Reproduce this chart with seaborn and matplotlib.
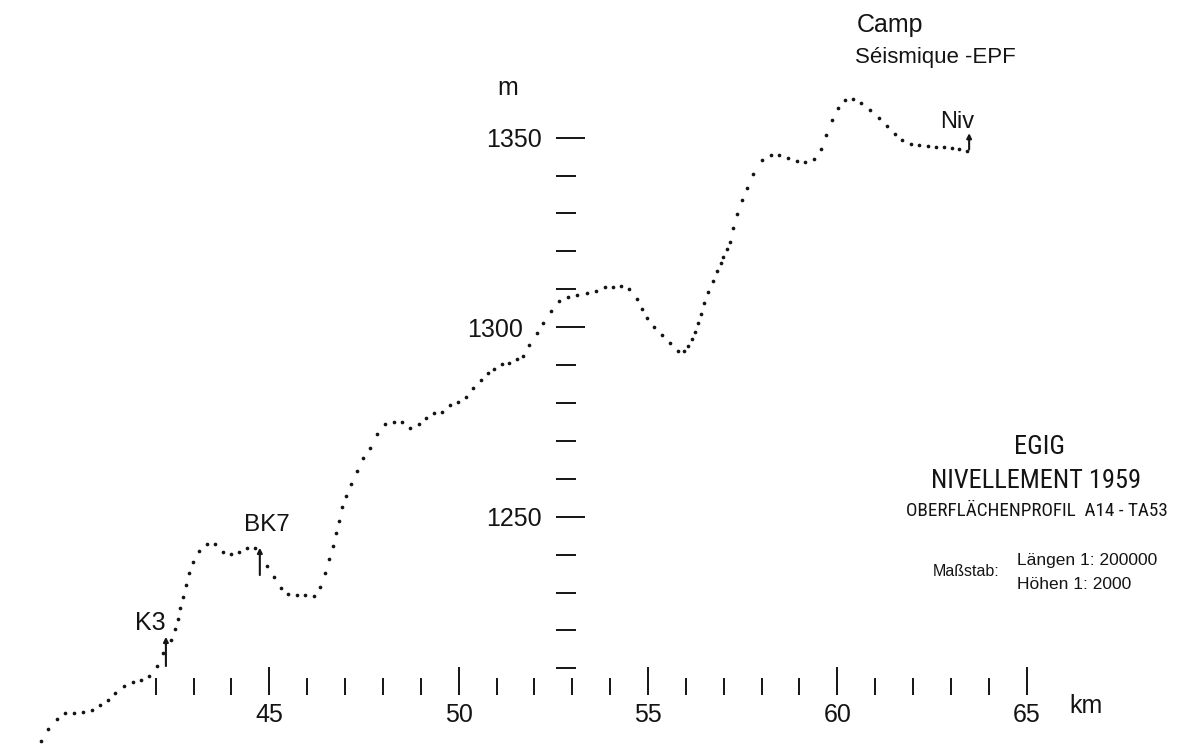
import matplotlib
matplotlib.use("Agg")
import matplotlib.pyplot as plt
import seaborn as sns
import pandas as pd
from matplotlib import font_manager as fm
from matplotlib.ticker import FixedLocator, NullFormatter
from matplotlib.transforms import ScaledTranslation

# Surface profile A14 - TA53: distance along the traverse (km) and surface height (m)
distance_km = [
    38.97, 39.16, 39.40, 39.61, 39.84, 40.09, 40.32, 40.53, 40.74, 40.93,
    41.16, 41.39, 41.62, 41.83, 42.03, 42.20, 42.40, 42.50, 42.58, 42.65,
    42.73, 42.81, 42.89, 42.99, 43.14, 43.36, 43.57, 43.79, 44.00, 44.21,
    44.41, 44.61, 44.95, 45.13, 45.31, 45.50, 45.72, 45.95, 46.17, 46.35,
    46.48, 46.58, 46.67, 46.75, 46.84, 46.93, 47.03, 47.17, 47.31, 47.48,
    47.67, 47.84, 48.06, 48.29, 48.50, 48.71, 48.94, 49.14, 49.36, 49.56,
    49.78, 49.99, 50.19, 50.39, 50.60, 50.78, 50.93, 51.15, 51.34, 51.53,
    51.70, 51.87, 52.08, 52.24, 52.43, 52.66, 52.89, 53.12, 53.38, 53.63,
    53.87, 54.08, 54.30, 54.50, 54.70, 54.84, 54.97, 55.17, 55.38, 55.59,
    55.80, 55.95, 56.06, 56.15, 56.24, 56.33, 56.40, 56.49, 56.59, 56.71,
    56.83, 56.92, 56.99, 57.08, 57.17, 57.25, 57.36, 57.48, 57.61, 57.78,
    58.01, 58.24, 58.46, 58.71, 58.94, 59.15, 59.38, 59.56, 59.71, 59.86,
    60.01, 60.21, 60.42, 60.62, 60.86, 61.11, 61.30, 61.51, 61.70, 61.94,
    62.16, 62.39, 62.60, 62.82, 63.02, 63.22, 63.43,
]
elevation_m = [
    1190.9, 1194.0, 1196.7, 1198.1, 1198.3, 1198.5, 1199.0, 1200.2, 1201.7, 1203.6,
    1205.3, 1206.3, 1206.8, 1207.9, 1210.6, 1214.0, 1217.5, 1220.4, 1223.0, 1225.8,
    1228.7, 1231.9, 1235.1, 1238.1, 1241.0, 1242.9, 1242.8, 1240.7, 1240.2, 1240.6,
    1241.7, 1241.8, 1237.0, 1234.2, 1231.3, 1229.7, 1229.4, 1229.3, 1229.1, 1231.4,
    1235.1, 1238.8, 1242.3, 1245.7, 1249.0, 1252.5, 1255.4, 1258.6, 1262.0, 1265.6,
    1268.1, 1271.8, 1274.4, 1275.0, 1274.9, 1273.5, 1274.4, 1276.1, 1277.3, 1277.6,
    1279.5, 1280.3, 1281.6, 1283.9, 1286.2, 1288.0, 1289.1, 1290.2, 1290.5, 1291.5,
    1292.5, 1295.2, 1298.6, 1301.0, 1304.3, 1306.9, 1308.0, 1308.4, 1309.0, 1309.6,
    1310.5, 1310.7, 1311.0, 1310.0, 1307.4, 1304.9, 1302.3, 1300.1, 1297.9, 1295.9,
    1293.6, 1293.8, 1295.0, 1296.8, 1298.7, 1301.1, 1303.6, 1306.3, 1309.3, 1312.2,
    1314.8, 1316.9, 1318.6, 1320.6, 1322.6, 1326.1, 1329.8, 1333.5, 1336.7, 1340.4,
    1344.0, 1345.4, 1345.4, 1344.6, 1343.9, 1343.5, 1344.3, 1347.0, 1350.7, 1354.7,
    1357.9, 1360.0, 1360.1, 1359.2, 1357.3, 1355.2, 1353.1, 1351.0, 1349.4, 1348.3,
    1348.1, 1347.9, 1347.6, 1347.6, 1347.3, 1346.9, 1346.6,
]

# Survey stations marked on the profile
station_names = ["K3", "BK7", "Niv"]
station_km = [42.27, 44.75, 63.48]

# Axis graduation
x_major = [45, 50, 55, 60, 65]
x_minor = [k for k in range(42, 66) if k not in x_major]
y_major = [1250, 1300, 1350]
y_minor = [h for h in range(1210, 1350, 10) if h not in y_major]

sns.set_theme(style="white")
installed = {f.name for f in fm.fontManager.ttflist}
narrow = next((f for f in ["Liberation Sans Narrow", "Roboto Condensed",
                           "Open Sans Condensed"] if f in installed), None)
plt.rcParams["font.family"] = ["Liberation Sans", "DejaVu Sans"]
plt.rcParams["text.color"] = "#111111"
title_family = [narrow, "Liberation Sans"] if narrow else ["Liberation Sans", "DejaVu Sans"]
shrink = 1.0 if narrow else 0.82

ink = "#141414"
fig = plt.figure(figsize=(11.77, 7.47), dpi=100, facecolor="white")
ax = fig.add_axes([0, 0, 1, 1])
ax.set_facecolor("white")
ax.set_xlim(37.889, 68.969)
ax.set_ylim(1189.24, 1386.33)

profile = pd.DataFrame({"km": distance_km, "m": elevation_m})
sns.scatterplot(data=profile, x="km", y="m", ax=ax, color=ink, s=7,
                linewidth=0, legend=False, zorder=3)

# Free-standing scales: ticks only, no axis lines
for name, spine in ax.spines.items():
    spine.set_visible(False)
ax.spines["bottom"].set_position(("data", 1203.0))
ax.spines["left"].set_position(("data", 52.57))

ax.xaxis.set_major_locator(FixedLocator(x_major))
ax.xaxis.set_minor_locator(FixedLocator(x_minor))
ax.yaxis.set_major_locator(FixedLocator(y_major))
ax.yaxis.set_minor_locator(FixedLocator(y_minor))
ax.xaxis.set_minor_formatter(NullFormatter())
ax.yaxis.set_minor_formatter(NullFormatter())
ax.set_xlabel("")
ax.set_ylabel("")

ax.tick_params(axis="x", which="major", direction="in", length=20, width=1.4,
               color=ink, labelsize=18, pad=6, labelcolor=ink,
               bottom=True, top=False)
ax.tick_params(axis="x", which="minor", direction="in", length=12.5, width=1.4,
               color=ink, bottom=True, top=False)
ax.tick_params(axis="y", which="major", direction="in", length=21, width=1.4,
               color=ink, labelsize=18, pad=10.5, labelcolor=ink,
               left=True, right=False)
ax.tick_params(axis="y", which="minor", direction="in", length=14.5, width=1.4,
               color=ink, left=True, right=False)
ax.grid(False)

# Units
ax.text(51.30, 1363.1, "m", fontsize=18, ha="center", va="center", color=ink)
ax.text(66.57, 1200.0, "km", fontsize=18, ha="center", va="center", color=ink)

# Station markers: short upward arrows crossing the profile
arrow_spans = [(1210.6, 1218.3), (1234.6, 1241.8), (1346.9, 1351.2)]
label_pos = [(41.85, 1222.0), (44.94, 1247.8), (63.16, 1354.1)]
label_size = [18, 17.5, 17]
for name, km, (lo, hi), (lx, ly), fs in zip(station_names, station_km,
                                          arrow_spans, label_pos, label_size):
    ax.annotate("", xy=(km, hi), xytext=(km, lo),
                arrowprops=dict(arrowstyle="-|>", color=ink, lw=1.5,
                                mutation_scale=7, shrinkA=0, shrinkB=0),
                zorder=4)
    ax.text(lx, ly, name, fontsize=fs, ha="center", va="center", color=ink)

# Camp name
ax.text(0.7281, 0.957, "Camp", transform=ax.transAxes, fontsize=18,
        ha="left", va="baseline", color=ink)
ax.text(0.7264, 0.9157, "Séismique -EPF", transform=ax.transAxes, fontsize=16,
        ha="left", va="baseline", color=ink)

# Title block
ax.text(0.8828, 0.4016, "EGIG", transform=ax.transAxes, family=title_family,
        fontsize=19 * shrink, ha="center", va="center", color=ink)
ax.text(0.8802, 0.3561, "NIVELLEMENT 1959", transform=ax.transAxes,
        family=title_family, fontsize=19 * shrink, ha="center", va="center",
        color=ink)
ax.text(0.8811, 0.3159, "OBERFLÄCHENPROFIL  A14 - TA53", transform=ax.transAxes,
        family=title_family, fontsize=13.8 * shrink, ha="center", va="center",
        color=ink)
ax.text(0.8207, 0.2343, "Maßstab:", transform=ax.transAxes, fontsize=11.5,
        ha="center", va="center", color=ink)
ax.text(0.8641, 0.2503, "Längen 1: 200000", transform=ax.transAxes,
        fontsize=12.5, ha="left", va="center", color=ink)
ax.text(0.8641, 0.2182, "Höhen 1: 2000", transform=ax.transAxes,
        fontsize=12.5, ha="left", va="center", color=ink)

fig.canvas.draw()
# The 1300 figure sits further left, clear of the profile
for lab in ax.get_yticklabels():
    if lab.get_text() == "1300":
        lab.set_transform(lab.get_transform()
                          + ScaledTranslation(-0.18, 0, fig.dpi_scale_trans))

fig.savefig("out.png", dpi=100, facecolor="white")
